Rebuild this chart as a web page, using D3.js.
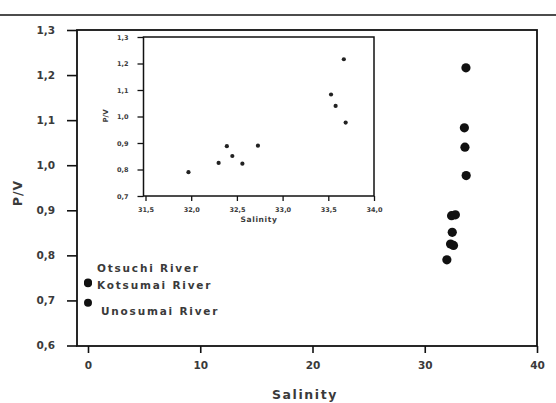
<!DOCTYPE html>
<html>
<head>
<meta charset="utf-8">
<script src="https://cdn.jsdelivr.net/npm/d3@7"></script>
<style>
  html, body { margin: 0; padding: 0; background: #fff; }
  svg { display: block; }
  text { font-family: "DejaVu Sans", sans-serif; font-weight: bold; fill: #3a3a3a; }
</style>
</head>
<body>
<svg id="chart" width="556" height="403"></svg>
<script>
// Estuary samples: salinity and P/V ratio
const salinity = [31.97, 32.30, 32.39, 32.45, 32.56, 32.73, 33.53, 33.58, 33.69, 33.67];
const pv       = [0.790, 0.825, 0.888, 0.851, 0.822, 0.890, 1.083, 1.040, 0.977, 1.216];

// River end-members (salinity 0)
const riverNames    = ["Otsuchi River", "Kotsumai River", "Unosumai River"];
const riverSalinity = [0, 0, 0];
const riverPV       = [0.740, 0.738, 0.695];

// Tick values
const mainXTicks  = [0, 10, 20, 30, 40];
const mainYTicks  = [0.6, 0.7, 0.8, 0.9, 1.0, 1.1, 1.2, 1.3];
const insetXTicks = [31.5, 32.0, 32.5, 33.0, 33.5, 34.0];
const insetYTicks = [0.7, 0.8, 0.9, 1.0, 1.1, 1.2, 1.3];

const svg = d3.select("#chart");
const comma = d => d3.format(".1f")(d).replace(".", ",");

// rule across the top of the figure
svg.append("line").attr("x1", 0).attr("x2", 556).attr("y1", 15).attr("y2", 15)
  .attr("stroke", "#111").attr("stroke-width", 1.6);

// ---------- main panel ----------
const frame = { left: 77, right: 537, top: 30, bottom: 346 };
const x = d3.scaleLinear().domain([0, 40]).range([88, 537]);
const y = d3.scaleLinear().domain([0.6, 1.3]).range([345.5, 30]);

const gx = svg.append("g").attr("transform", `translate(0,${frame.bottom})`)
  .call(d3.axisBottom(x).tickValues(mainXTicks).tickSize(7).tickPadding(9).tickFormat(d3.format("d")));
const gy = svg.append("g").attr("transform", `translate(${frame.left},0)`)
  .call(d3.axisLeft(y).tickValues(mainYTicks).tickSize(10).tickPadding(12).tickFormat(comma));
[gx, gy].forEach(g => {
  g.select(".domain").remove();
  g.selectAll(".tick line").attr("stroke", "#111").attr("stroke-width", 1.6);
  g.selectAll(".tick text").style("font-size", "10.5px").attr("fill", "#484848");
});

svg.append("rect")
  .attr("x", frame.left).attr("y", frame.top)
  .attr("width", frame.right - frame.left).attr("height", frame.bottom - frame.top)
  .attr("fill", "none").attr("stroke", "#111").attr("stroke-width", 1.8);

svg.append("text").attr("x", 305).attr("y", 399).attr("text-anchor", "middle")
  .style("font-size", "12.5px").style("letter-spacing", "1.6px").text("Salinity");
svg.append("text").attr("transform", "translate(22,193) rotate(-90)").attr("text-anchor", "middle")
  .style("font-size", "12.5px").style("letter-spacing", "1px").text("P/V");

// estuary points
svg.append("g").selectAll("circle").data(salinity).join("circle")
  .attr("cx", (d, i) => x(d)).attr("cy", (d, i) => y(pv[i])).attr("r", 4.6).attr("fill", "#111");

// river points with their names
const labelDy = [-14, 2, 8];
svg.append("g").selectAll("circle").data(riverPV).join("circle")
  .attr("cx", (d, i) => x(riverSalinity[i])).attr("cy", d => y(d)).attr("r", 4).attr("fill", "#111");
svg.append("g").selectAll("text").data(riverNames).join("text")
  .attr("x", (d, i) => x(riverSalinity[i]) + 9 + (i === 2 ? 4 : 0))
  .attr("y", (d, i) => y(riverPV[i]) + labelDy[i] + 4)
  .style("font-size", "10.5px").style("letter-spacing", "1.8px")
  .text(d => d);

// ---------- inset panel ----------
const inset = { left: 143.5, right: 374, top: 37, bottom: 196 };
const xi = d3.scaleLinear().domain([31.5, 34.0]).range([145.5, 374]);
const yi = d3.scaleLinear().domain([0.7, 1.3]).range([196, 37]);

const gxi = svg.append("g").attr("transform", `translate(0,${inset.bottom})`)
  .call(d3.axisBottom(xi).tickValues(insetXTicks).tickSize(5).tickPadding(6).tickFormat(comma));
const gyi = svg.append("g").attr("transform", `translate(${inset.left},0)`)
  .call(d3.axisLeft(yi).tickValues(insetYTicks).tickSize(6).tickPadding(9).tickFormat(comma));
[gxi, gyi].forEach(g => {
  g.select(".domain").remove();
  g.selectAll(".tick line").attr("stroke", "#111").attr("stroke-width", 1.3);
  g.selectAll(".tick text").style("font-size", "6.5px").attr("fill", "#555");
});

svg.append("rect")
  .attr("x", inset.left).attr("y", inset.top)
  .attr("width", inset.right - inset.left).attr("height", inset.bottom - inset.top)
  .attr("fill", "none").attr("stroke", "#111").attr("stroke-width", 1.5);

svg.append("text").attr("x", 259).attr("y", 222).attr("text-anchor", "middle")
  .style("font-size", "7.5px").style("letter-spacing", "0.6px").attr("fill", "#555").text("Salinity");
svg.append("text").attr("transform", "translate(108,116) rotate(-90)").attr("text-anchor", "middle")
  .style("font-size", "7px").attr("fill", "#555").text("P/V");

svg.append("g").selectAll("circle").data(salinity).join("circle")
  .attr("cx", d => xi(d)).attr("cy", (d, i) => yi(pv[i])).attr("r", 2.1).attr("fill", "#222");
</script>
</body>
</html>
